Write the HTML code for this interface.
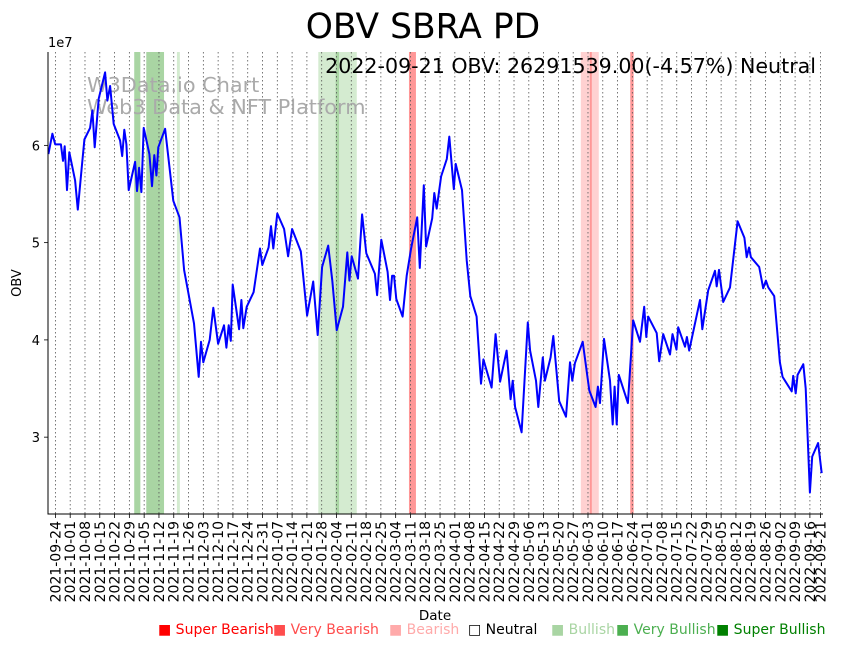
<!DOCTYPE html>
<html><head><meta charset="utf-8"><style>
body{margin:0;background:#fff;}
svg text{font-family:"DejaVu Sans","Liberation Sans",sans-serif;}
</style></head><body>
<svg id="chart" width="842" height="646" viewBox="0 0 842 646" xmlns="http://www.w3.org/2000/svg">
<rect width="842" height="646" fill="#fff"/>
<text x="423" y="38" font-size="34.5" text-anchor="middle">OBV SBRA PD</text>
<g id="bands"></g>
<g id="grid"></g>
<text x="87" y="92" font-size="20.8" fill="#aaa">W3Data.io Chart</text>
<text x="87" y="114" font-size="20.8" fill="#aaa">Web3 Data &amp; NFT Platform</text>
<g id="line"></g>
<g id="axes"></g>
<text x="816" y="73" font-size="20.6" text-anchor="end">2022-09-21 OBV: 26291539.00(-4.57%) Neutral</text>
<text x="48" y="47" font-size="13">1e7</text>
<text transform="translate(21,283) rotate(-90)" font-size="13" text-anchor="middle">OBV</text>
<text x="435" y="620" font-size="13.5" text-anchor="middle">Date</text>
<g id="legend" font-size="14"></g>
</svg>
<script>
const startDate = "2021-09-24";
const dayOffsets = [-3.3,-1.4,-0.1,2.6,3.6,4.4,5.5,6.6,9.3,10.6,12.5,13.7,16.4,17.5,18.6,20.5,23.5,24.6,25.9,27.6,30.6,31.6,32.6,33.6,34.7,37.7,38.6,39.6,40.7,41.8,44.5,45.7,46.8,47.8,48.7,51.9,55.8,58.7,60.9,65.6,67.8,68.9,70.0,73.0,74.7,77.0,79.8,80.9,82.0,83.0,83.9,86.9,88.0,88.9,90.5,93.8,96.8,97.9,100.9,102.0,103.1,105.0,108.2,110.1,112.0,116.1,119.1,122.0,124.1,126.2,129.1,131.0,133.1,136.1,138.1,139.1,140.2,143.2,145.1,147.1,151.2,152.2,154.2,157.2,158.3,159.3,160.2,161.3,164.3,166.2,168.3,171.2,172.4,174.3,175.4,178.3,179.3,180.4,182.5,185.2,186.4,188.5,189.4,192.4,194.6,196.3,199.3,201.4,202.5,206.4,208.3,210.4,213.5,215.4,216.4,217.5,220.6,223.5,224.6,227.4,228.5,230.6,231.6,234.3,235.6,238.4,241.6,243.5,244.6,245.8,249.5,252.6,255.6,256.7,257.7,259.6,262.4,263.7,264.6,265.6,266.6,270.9,273.4,276.6,278.6,279.6,280.5,284.5,285.7,287.6,290.8,292.0,293.9,294.7,297.9,298.8,299.9,305.0,306.1,308.9,312.1,312.9,314.0,316.0,319.2,322.8,326.0,327.1,328.2,329.1,333.0,334.9,336.2,337.3,340.1,342.8,344.1,348.4,349.1,350.3,351.2,353.9,355.0,357.0,358.1,360.9,362.6];
const obvValues = [5.91,6.12,6.01,6.01,5.84,5.99,5.54,5.93,5.64,5.34,5.78,6.06,6.18,6.36,5.98,6.48,6.75,6.46,6.61,6.22,6.05,5.89,6.16,6.01,5.54,5.83,5.53,5.77,5.52,6.18,5.91,5.58,5.90,5.69,5.98,6.17,5.43,5.26,4.72,4.17,3.62,3.98,3.77,4.00,4.33,3.96,4.15,3.92,4.15,3.99,4.57,4.11,4.41,4.12,4.34,4.49,4.94,4.77,4.95,5.17,4.94,5.30,5.14,4.86,5.14,4.91,4.25,4.60,4.05,4.75,4.97,4.61,4.10,4.34,4.90,4.61,4.86,4.63,5.29,4.89,4.68,4.46,5.03,4.70,4.41,4.66,4.66,4.42,4.24,4.66,4.94,5.26,4.74,5.59,4.96,5.25,5.51,5.35,5.68,5.86,6.09,5.55,5.81,5.54,4.82,4.45,4.24,3.55,3.80,3.51,4.06,3.57,3.89,3.39,3.58,3.31,3.05,4.18,3.89,3.58,3.31,3.82,3.58,3.82,4.04,3.37,3.21,3.77,3.58,3.76,3.98,3.48,3.31,3.52,3.35,4.01,3.58,3.13,3.52,3.13,3.64,3.35,4.20,3.98,4.34,4.03,4.24,4.07,3.78,4.06,3.85,4.06,3.90,4.13,3.93,4.03,3.89,4.41,4.11,4.51,4.71,4.55,4.72,4.39,4.54,5.22,5.05,4.85,4.95,4.85,4.75,4.53,4.61,4.54,4.45,3.77,3.62,3.47,3.63,3.45,3.64,3.75,3.50,2.43,2.80,2.94,2.63];
const yTicks = [3,4,5,6];
const bandStarts = [37.3,43.0,57.5,124.4,132.6,167.3,248.6,252.9,272.0];
const bandEnds =   [40.2,51.4,58.9,142.6,134.2,170.6,257.1,253.8,273.6];
const bandKinds = ["very-bullish","very-bullish","bullish","bullish","very-bullish","very-bearish","bearish","very-bearish","very-bearish"];
const legendLabels = ["Super Bearish","Very Bearish","Bearish","Neutral","Bullish","Very Bullish","Super Bullish"];

const NS="http://www.w3.org/2000/svg";
const L=48,R=823,T=52,B=514;
const dMin=-3.5,dMax=363.2,vMin=2.21,vMax=6.96;
const xs=d=>L+(d-dMin)/(dMax-dMin)*(R-L);
const ys=v=>B-(v-vMin)/(vMax-vMin)*(B-T);
function mk(tag,attrs,parent){const e=document.createElementNS(NS,tag);for(const k in attrs)e.setAttribute(k,attrs[k]);parent.appendChild(e);return e;}
const bandColor={"bullish":"#d4ebd0","very-bullish":"#a9d5a3","bearish":"#ffd1d1","very-bearish":"#ff9797"};
const gB=document.getElementById('bands');
bandStarts.forEach((s,i)=>{
 const r=mk('rect',{x:xs(s),y:T,width:xs(bandEnds[i])-xs(s),height:B-T,fill:bandColor[bandKinds[i]]},gB);
 
 
});
const gG=document.getElementById('grid'),gA=document.getElementById('axes');
const base=new Date(startDate+"T00:00:00Z");
function fmt(d){return d.toISOString().slice(0,10);}
const tickDays=[];for(let w=0;w<=51;w++)tickDays.push(w*7);tickDays.push(362);
tickDays.forEach(td=>{
 const x=xs(td);
 const gl=mk('line',{x1:x,x2:x,y1:T,y2:B,stroke:'#555','stroke-width':0.8,'stroke-dasharray':'1.5,2.5'},gG);
 
 
 mk('line',{x1:x,x2:x,y1:B,y2:B+4,stroke:'#000','stroke-width':0.8},gA);
 const dt=new Date(base.getTime()+td*86400000);
 const t=mk('text',{transform:`translate(${x+5},${B+7}) rotate(-90)`,'font-size':14,'text-anchor':'end'},gA);
 t.textContent=fmt(dt);
 
 
});
yTicks.forEach(v=>{
 const y=ys(v);
 mk('line',{x1:L-4,x2:L,y1:y,y2:y,stroke:'#000','stroke-width':0.8},gA);
 const t=mk('text',{x:L-8,y:y+5,'font-size':13,'text-anchor':'end'},gA);
 t.textContent=v;
 
 
});
const ax=mk('path',{d:`M${L},${T}V${B}H${R}`,fill:'none',stroke:'#000','stroke-width':1},gA);


const pts=dayOffsets.map((d,i)=>xs(d).toFixed(1)+','+ys(obvValues[i]).toFixed(1)).join(' ');
const pl=mk('polyline',{points:pts,fill:'none',stroke:'#0000ff','stroke-width':2,'stroke-linejoin':'round'},document.getElementById('line'));


const legColors=["#ff0000","#ff4d4d","#ffaaaa","#000","#a9d5a3","#4caf50","#008000"];
const legX=[158,273,389,468,551,616,716];
const gL=document.getElementById('legend');
legendLabels.forEach((lab,i)=>{
 const t=mk('text',{x:legX[i],y:634,fill:legColors[i]},gL);
 t.textContent=(i===3?'\u25A1 ':'\u25A0 ')+lab;
 
 
});
</script>
</body></html>
